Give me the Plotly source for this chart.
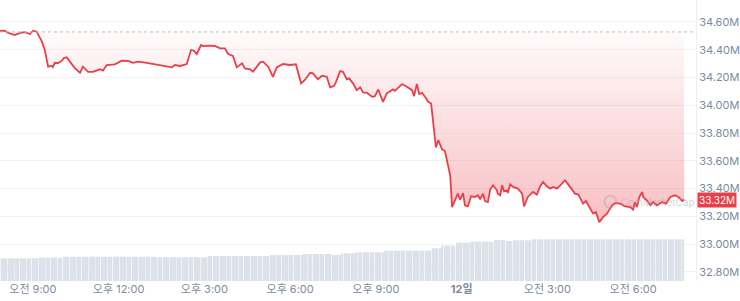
import plotly.graph_objects as go
import pandas as pd

DATE11 = "2024-06-11"
DATE12 = "2024-06-12"

TIMES = [
    "11 07:51", "11 08:01", "11 08:07", "11 08:22", "11 08:33", "11 08:43", "11 08:54", "11 09:00",
    "11 09:08", "11 09:19", "11 09:25", "11 09:32", "11 09:40", "11 09:42", "11 09:46", "11 09:53",
    "11 10:01", "11 10:05", "11 10:11", "11 10:18", "11 10:28", "11 10:39", "11 10:45", "11 10:56",
    "11 11:06", "11 11:21", "11 11:27", "11 11:35", "11 11:46", "11 11:52", "11 12:07", "11 12:20",
    "11 12:30", "11 12:41", "11 12:59", "11 13:16", "11 13:27", "11 13:41", "11 13:52", "11 13:58",
    "11 14:09", "11 14:23", "11 14:32", "11 14:38", "11 14:44", "11 14:53", "11 14:57", "11 15:12",
    "11 15:22", "11 15:33", "11 15:43", "11 15:50", "11 16:00", "11 16:08", "11 16:19", "11 16:25",
    "11 16:36", "11 16:42", "11 16:57", "11 17:03", "11 17:14", "11 17:24", "11 17:32", "11 17:45",
    "11 18:00", "11 18:12", "11 18:23", "11 18:31", "11 18:42", "11 18:48", "11 18:58", "11 19:07",
    "11 19:17", "11 19:24", "11 19:32", "11 19:36", "11 19:45", "11 19:51", "11 19:59", "11 20:04",
    "11 20:12", "11 20:20", "11 20:27", "11 20:33", "11 20:41", "11 20:52", "11 20:58", "11 21:05",
    "11 21:15", "11 21:23", "11 21:30", "11 21:36", "11 21:40", "11 21:55", "11 22:05", "11 22:16",
    "11 22:20", "11 22:26", "11 22:31", "11 22:37", "11 22:43", "11 22:50", "11 22:56", "11 23:00",
    "11 23:06", "11 23:11", "11 23:19", "11 23:25", "11 23:29", "11 23:36", "11 23:40", "11 23:46",
    "11 23:52", "11 23:57", "12 00:03", "12 00:07", "12 00:13", "12 00:20", "12 00:28", "12 00:34",
    "12 00:39", "12 00:45", "12 00:49", "12 00:55", "12 01:00", "12 01:06", "12 01:14", "12 01:16",
    "12 01:21", "12 01:25", "12 01:29", "12 01:35", "12 01:37", "12 01:42", "12 01:48", "12 01:58",
    "12 02:07", "12 02:11", "12 02:19", "12 02:30", "12 02:38", "12 02:45", "12 02:51", "12 02:59",
    "12 03:06", "12 03:12", "12 03:20", "12 03:27", "12 03:37", "12 03:44", "12 03:52", "12 03:58",
    "12 04:05", "12 04:09", "12 04:15", "12 04:21", "12 04:26", "12 04:36", "12 04:42", "12 04:49",
    "12 04:57", "12 05:05", "12 05:16", "12 05:22", "12 05:33", "12 05:43", "12 05:54", "12 06:00",
    "12 06:04", "12 06:08", "12 06:13", "12 06:19", "12 06:21", "12 06:29", "12 06:36", "12 06:42",
    "12 06:50", "12 07:01", "12 07:09", "12 07:18", "12 07:28", "12 07:35", "12 07:43", "12 07:47",
]

PRICES = [
    34.535, 34.537, 34.523, 34.506, 34.521, 34.526, 34.513, 34.537,
    34.530, 34.458, 34.398, 34.278, 34.283, 34.275, 34.306, 34.304,
    34.321, 34.340, 34.345, 34.314, 34.268, 34.234, 34.278, 34.241,
    34.241, 34.259, 34.249, 34.290, 34.290, 34.295, 34.321, 34.319,
    34.306, 34.314, 34.306, 34.295, 34.285, 34.278, 34.273, 34.290,
    34.283, 34.297, 34.398, 34.393, 34.369, 34.434, 34.427, 34.429,
    34.427, 34.410, 34.410, 34.369, 34.355, 34.273, 34.302, 34.266,
    34.259, 34.241, 34.309, 34.314, 34.278, 34.205, 34.273, 34.297,
    34.290, 34.295, 34.158, 34.182, 34.234, 34.230, 34.187, 34.213,
    34.205, 34.129, 34.138, 34.165, 34.246, 34.241, 34.187, 34.194,
    34.158, 34.109, 34.129, 34.093, 34.090, 34.061, 34.066, 34.114,
    34.025, 34.086, 34.102, 34.114, 34.104, 34.153, 34.133, 34.109,
    34.066, 34.153, 34.081, 34.090, 34.061, 34.025, 34.013, 33.869,
    33.696, 33.749, 33.682, 33.671, 33.604, 33.496, 33.267, 33.316,
    33.364, 33.321, 33.368, 33.280, 33.272, 33.345, 33.340, 33.352,
    33.323, 33.364, 33.311, 33.303, 33.393, 33.424, 33.388, 33.364,
    33.352, 33.424, 33.381, 33.388, 33.368, 33.431, 33.412, 33.400,
    33.364, 33.272, 33.340, 33.376, 33.357, 33.417, 33.448, 33.417,
    33.400, 33.412, 33.400, 33.424, 33.460, 33.429, 33.393, 33.364,
    33.357, 33.328, 33.292, 33.311, 33.280, 33.220, 33.231, 33.159,
    33.195, 33.220, 33.280, 33.296, 33.292, 33.272, 33.267, 33.249,
    33.303, 33.267, 33.340, 33.376, 33.340, 33.316, 33.280, 33.303,
    33.280, 33.303, 33.292, 33.340, 33.352, 33.340, 33.311, 33.321,
]

BASELINE = 34.528  # opening reference (dotted line)

# Volume bars (5-minute bars), read as step levels with number of bars per level
VOL_LEVELS = [1.135, 1.165, 1.215, 1.185, 1.25, 1.30, 1.35, 1.30, 1.385, 1.435,
              1.515, 1.635, 1.765, 1.915, 1.965, 2.05, 2.0, 2.035, 2.085]
VOL_COUNTS = [17, 10, 39, 22, 26, 14, 12, 4, 6, 12,
              20, 4, 6, 6, 10, 5, 3, 8, 24 + 40]
VOL_START = "2024-06-11 07:50"

Y_TICKS = [32.8, 33.0, 33.2, 33.4, 33.6, 33.8, 34.0, 34.2, 34.4, 34.6]
Y_TICKTEXT = ["32.80M", "33.00M", "33.20M", "33.40M", "33.60M", "33.80M",
              "34.00M", "34.20M", "34.40M", "34.60M"]

X_TICKS = ["2024-06-11 09:00", "2024-06-11 12:00", "2024-06-11 15:00", "2024-06-11 18:00",
           "2024-06-11 21:00", "2024-06-12 00:00", "2024-06-12 03:00", "2024-06-12 06:00"]
X_TICKTEXT = ["오전 9:00", "오후 12:00", "오후 3:00", "오후 6:00", "오후 9:00",
              "<b>12일</b>", "오전 3:00", "오전 6:00"]


def to_dt(s):
    d, hm = s.split(" ")
    return f"{DATE11 if d == '11' else DATE12} {hm}"


times = [to_dt(s) for s in TIMES]

vol = []
for lvl, n in zip(VOL_LEVELS, VOL_COUNTS):
    vol += [lvl] * n
vol_times = pd.date_range(VOL_START, periods=len(vol), freq="5min")

RED = "#e8404a"
GREY = "#808a9d"
FONT = "Inter, 'Noto Sans CJK KR', sans-serif"

fig = go.Figure()

fig.add_trace(go.Bar(
    x=vol_times, y=vol, yaxis="y2",
    marker=dict(color="#dde2ea", line=dict(width=0)),
    hoverinfo="skip", showlegend=False,
))

fig.add_trace(go.Scatter(
    x=[times[0], times[-1]], y=[BASELINE, BASELINE],
    mode="lines", line=dict(width=0, color="rgba(0,0,0,0)"),
    hoverinfo="skip", showlegend=False,
))

fig.add_trace(go.Scatter(
    x=times, y=PRICES, mode="lines",
    line=dict(color=RED, width=1.8),
    fill="tonexty",
    fillgradient=dict(
        type="vertical",
        colorscale=[[0, "rgba(234,57,67,0.32)"], [1, "rgba(234,57,67,0.02)"]],
        start=min(PRICES), stop=BASELINE,
    ),
    showlegend=False,
))

fig.add_shape(type="line", xref="paper", x0=0, x1=1, yref="y",
              y0=BASELINE, y1=BASELINE,
              line=dict(color="#b4bac4", width=1, dash="dot"))

# watermark (kept inside the plot, left of the price label)
fig.add_shape(type="circle", xref="paper", yref="y",
              xsizemode="pixel", ysizemode="pixel",
              xanchor=0.877, yanchor=33.305, x0=-6, x1=6, y0=-6, y1=6,
              line=dict(color="rgba(150,160,178,0.35)", width=2))
fig.add_annotation(xref="paper", yref="y", x=0.889, y=33.305, xanchor="left",
                   text="CoinMarketCap", showarrow=False,
                   font=dict(family=FONT, size=10, color="rgba(150,160,178,0.45)"))

# last price label
fig.add_annotation(xref="paper", yref="y", x=1, y=PRICES[-1], xanchor="left",
                   xshift=1, text=f"{PRICES[-1]:.2f}M", showarrow=False,
                   bgcolor=RED, borderpad=1,
                   font=dict(family=FONT, size=10, color="white"))

fig.update_layout(
    width=740, height=301,
    margin=dict(l=0, r=44, t=0, b=20),
    paper_bgcolor="white", plot_bgcolor="white",
    bargap=0.3,
    font=dict(family=FONT, size=11, color=GREY),
    xaxis=dict(
        type="date",
        range=["2024-06-11 07:51", "2024-06-12 08:12"],
        tickvals=X_TICKS, ticktext=X_TICKTEXT,
        showgrid=False, zeroline=False, showline=False, ticks="",
        tickfont=dict(size=11, color=GREY),
    ),
    yaxis=dict(
        side="right", range=[32.735, 34.758],
        tickvals=Y_TICKS, ticktext=Y_TICKTEXT,
        showgrid=True, gridcolor="#f1f2f4", zeroline=False,
        showline=True, linecolor="#eceef2", ticks="",
        tickfont=dict(size=11, color=GREY),
    ),
    yaxis2=dict(overlaying="y", range=[0, 14.05], visible=False),
)

fig.write_html("out.html")
